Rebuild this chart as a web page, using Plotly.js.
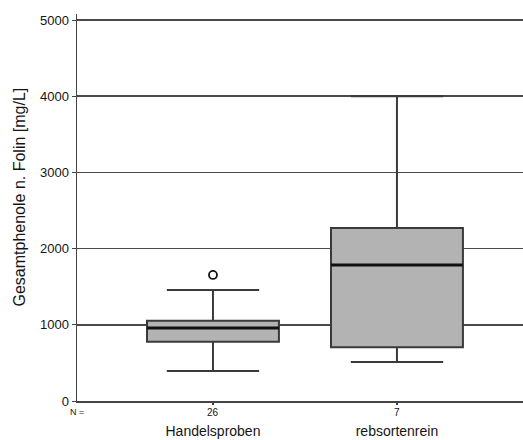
<!DOCTYPE html>
<html><head><meta charset="utf-8">
<script src="https://cdn.plot.ly/plotly-3.0.1.min.js"></script>
<style>html,body{margin:0;padding:0;background:#fff;overflow:hidden}</style>
</head><body><div id="chart" style="width:523px;height:440px"></div>
<script>
const categories = ["Handelsproben", "rebsortenrein"];
const nCounts = [26, 7];
const q1 = [778, 705];
const medians = [958, 1785];
const q3 = [1054, 2270];
const lowerWhisker = [394, 512];
const upperWhisker = [1457, 4000];
const outlierCats = ["Handelsproben"];
const outlierValues = [1654];
const yTicks = [0, 1000, 2000, 3000, 4000, 5000];
const yTitle = "Gesamtphenole n. Folin [mg/L]";

const font = "Liberation Sans, Arial, sans-serif";
const ink = "#151515";

const traces = [{
  type: "box",
  x: categories,
  q1: q1, median: medians, q3: q3,
  lowerfence: lowerWhisker, upperfence: upperWhisker,
  width: 0.717,
  whiskerwidth: 0.7,
  fillcolor: "#b3b3b3",
  line: {color: "#3a3a3a", width: 2},
  boxpoints: false,
  hoverinfo: "skip",
  showlegend: false
}, {
  type: "box",
  x: categories,
  q1: medians, median: medians, q3: medians,
  lowerfence: medians, upperfence: medians,
  width: 0.717,
  whiskerwidth: 0,
  fillcolor: "rgba(0,0,0,0)",
  line: {color: "#111", width: 3},
  boxpoints: false,
  hoverinfo: "skip",
  showlegend: false
}, {
  type: "scatter",
  mode: "markers",
  x: outlierCats,
  y: outlierValues,
  marker: {symbol: "circle-open", size: 8, color: ink, line: {width: 1.8}},
  showlegend: false,
  hoverinfo: "skip"
}];

const annotations = categories.map((c, i) => ({
  x: c, y: 0, xref: "x", yref: "y", yanchor: "top",
  yshift: -4, text: String(nCounts[i]), showarrow: false,
  font: {family: font, size: 10, color: ink}
}));
annotations.push({
  xref: "paper", yref: "y", x: 0, y: 0, xanchor: "center", yanchor: "top",
  xshift: 0, yshift: -4, text: "N =", showarrow: false,
  font: {family: font, size: 9, color: ink}
});
annotations.push({
  xref: "paper", yref: "paper", x: 0, y: 0.5, xanchor: "center", yanchor: "middle",
  xshift: -58, yshift: 10, textangle: -90, text: yTitle, showarrow: false,
  font: {family: font, size: 16, color: ink}
});

const layout = {
  width: 523, height: 440,
  margin: {l: 77, r: 0, t: 14, b: 39},
  paper_bgcolor: "#fff", plot_bgcolor: "#fff",
  showlegend: false,
  boxmode: "overlay",
  font: {family: font, color: ink},
  xaxis: {
    type: "category",
    range: [-0.739, 1.685],
    tickvals: categories, ticktext: categories,
    ticks: "outside", ticklen: 2, tickcolor: "#444", tickwidth: 2,
    ticklabelstandoff: 15,
    tickfont: {family: font, size: 14, color: ink},
    showline: true, linecolor: "#444", linewidth: 1.5, mirror: false,
    showgrid: false, zeroline: false, fixedrange: true
  },
  yaxis: {
    range: [0, 5079],
    tickvals: yTicks,
    ticks: "outside", ticklen: 4, tickcolor: "#444",
    tickfont: {family: font, size: 13, color: ink},
    showline: true, linecolor: "#444", linewidth: 1.5, mirror: false,
    showgrid: true, gridcolor: "#4a4a4a", gridwidth: 1.6,
    zeroline: false
  },
  annotations: annotations
};

Plotly.newPlot("chart", traces, layout, {displayModeBar: false, staticPlot: true});
</script></body></html>
